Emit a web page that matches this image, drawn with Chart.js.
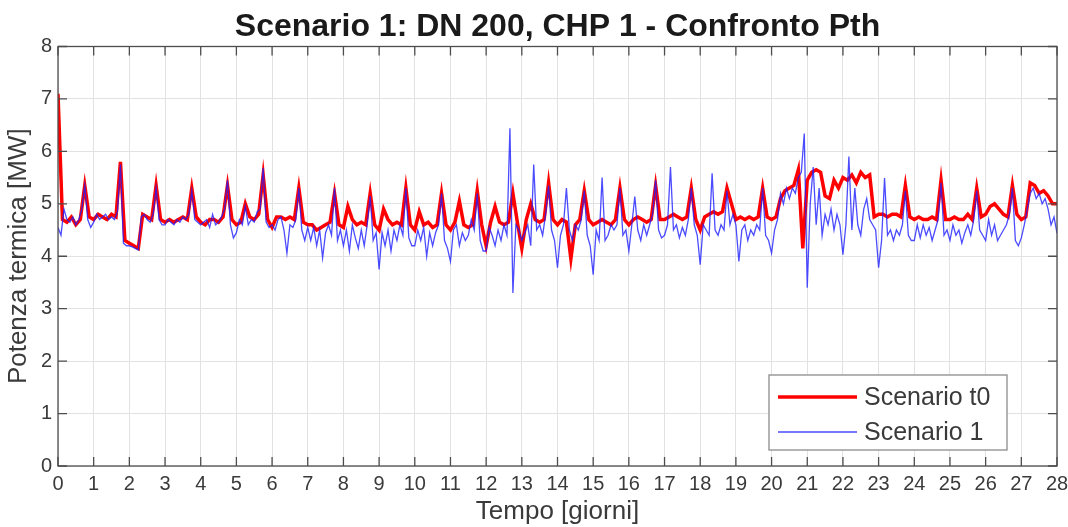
<!DOCTYPE html>
<html>
<head>
<meta charset="utf-8">
<title>Scenario 1: DN 200, CHP 1 - Confronto Pth</title>
<script src="https://cdn.jsdelivr.net/npm/chart.js@4.4.1/dist/chart.umd.min.js"></script>
<style>
    html, body { margin: 0; padding: 0; background: #fff; }
    #wrap { width: 1068px; height: 527px; position: relative; }
</style>
</head>
<body>
<div id="wrap"><canvas id="pthChart"></canvas></div>
<script>
// ==============================================================================
// 1. DATA (days 0..28; t0 sampled every 3 h, scenario 1 every 2 h)
// ==============================================================================
const STEP_T0 = 3 / 24;
const STEP_S1 = 2 / 24;

const xTicks = [0, 1, 2, 3, 4, 5, 6, 7, 8, 9, 10, 11, 12, 13, 14, 15, 16, 17, 18, 19, 20, 21, 22, 23, 24, 25, 26, 27, 28];
const yTicks = [0, 1, 2, 3, 4, 5, 6, 7, 8];

const chartTitle = 'Scenario 1: DN 200, CHP 1 - Confronto Pth';
const seriesLabels = ['Scenario t0', 'Scenario 1'];

// Scenario t0 [MW], 8 samples per day
const pthScenarioT0 = [
    7.1, 4.7, 4.65, 4.75, 4.6, 4.7, 5.35, 4.75,      // day 0
    4.7, 4.8, 4.75, 4.7, 4.8, 4.75, 5.8, 4.3,        // day 1
    4.25, 4.2, 4.15, 4.8, 4.75, 4.7, 5.35, 4.7,      // day 2
    4.65, 4.7, 4.65, 4.7, 4.75, 4.7, 5.3, 4.75,      // day 3
    4.65, 4.6, 4.7, 4.7, 4.65, 4.75, 5.35, 4.7,      // day 4
    4.6, 4.65, 5.0, 4.75, 4.7, 4.8, 5.55, 4.7,       // day 5
    4.55, 4.75, 4.75, 4.7, 4.75, 4.7, 5.3, 4.65,     // day 6
    4.6, 4.6, 4.5, 4.55, 4.6, 4.65, 5.2, 4.6,        // day 7
    4.55, 4.95, 4.7, 4.6, 4.65, 4.6, 5.2, 4.6,       // day 8
    4.5, 4.9, 4.7, 4.6, 4.65, 4.6, 5.3, 4.6,         // day 9
    4.5, 4.85, 4.6, 4.65, 4.55, 4.6, 5.2, 4.6,       // day 10
    4.5, 4.65, 5.05, 4.6, 4.55, 4.6, 5.25, 4.6,      // day 11
    4.2, 4.65, 4.95, 4.65, 4.6, 4.65, 5.2, 4.65,     // day 12
    4.15, 4.7, 5.0, 4.7, 4.65, 4.7, 5.4, 4.7,        // day 13
    4.6, 4.7, 4.65, 3.95, 4.6, 4.7, 5.25, 4.7,       // day 14
    4.6, 4.65, 4.7, 4.65, 4.6, 4.7, 5.3, 4.7,        // day 15
    4.6, 4.7, 4.75, 4.7, 4.65, 4.7, 5.35, 4.7,       // day 16
    4.7, 4.75, 4.8, 4.75, 4.7, 4.75, 5.3, 4.7,       // day 17
    4.5, 4.75, 4.8, 4.85, 4.8, 4.85, 5.3, 5.0,       // day 18
    4.7, 4.75, 4.7, 4.75, 4.7, 4.75, 5.3, 4.75,      // day 19
    4.7, 4.75, 5.1, 5.25, 5.3, 5.35, 5.65, 4.15,     // day 20
    5.45, 5.6, 5.65, 5.6, 5.15, 5.1, 5.45, 5.3,      // day 21
    5.5, 5.45, 5.55, 5.4, 5.6, 5.5, 5.55, 4.75,      // day 22
    4.8, 4.8, 4.75, 4.8, 4.8, 4.75, 5.35, 4.75,      // day 23
    4.7, 4.75, 4.7, 4.7, 4.75, 4.7, 5.45, 4.7,       // day 24
    4.7, 4.75, 4.7, 4.7, 4.8, 4.7, 5.3, 4.75,        // day 25
    4.8, 4.95, 5.0, 4.9, 4.8, 4.75, 5.35, 4.8,       // day 26
    4.7, 4.75, 5.4, 5.35, 5.2, 5.25, 5.15, 5.0,      // day 27
    5.0                                              // day 28
];

// Scenario 1 [MW], 12 samples per day
const pthScenario1 = [
    4.55, 4.4, 4.9, 4.7, 4.65, 4.75, 4.6, 4.7, 4.9, 5.35, 4.7, 4.55,    // day 0
    4.65, 4.8, 4.7, 4.75, 4.8, 4.7, 4.75, 4.7, 4.85, 5.75, 4.25, 4.2,   // day 1
    4.2, 4.18, 4.15, 4.12, 4.75, 4.8, 4.7, 4.65, 4.8, 5.3, 4.7, 4.6,    // day 2
    4.6, 4.7, 4.65, 4.6, 4.7, 4.65, 4.75, 4.7, 4.8, 5.25, 4.7, 4.65,    // day 3
    4.6, 4.65, 4.7, 4.55, 4.8, 4.6, 4.65, 4.75, 4.9, 5.45, 4.6, 4.35,   // day 4
    4.45, 4.7, 4.6, 4.95, 4.6, 4.7, 4.65, 4.85, 4.9, 5.68, 4.65, 4.55,  // day 5
    4.6, 4.5, 4.7, 4.75, 4.5, 4.06, 4.6, 4.55, 4.7, 5.3, 4.5, 4.3,      // day 6
    4.55, 4.3, 4.55, 4.2, 4.5, 3.97, 4.45, 4.6, 4.4, 5.3, 4.3, 4.5,     // day 7
    4.2, 4.5, 4.1, 4.6, 4.35, 4.15, 4.5, 4.2, 4.6, 5.15, 4.3, 4.45,     // day 8
    3.75, 4.45, 4.2, 4.5, 4.1, 4.5, 4.3, 4.6, 4.4, 5.3, 4.35, 4.2,      // day 9
    4.2, 4.5, 4.3, 4.55, 4.0, 4.45, 4.2, 4.45, 4.6, 5.2, 4.3, 4.15,     // day 10
    3.9, 4.5, 4.6, 4.2, 4.45, 4.3, 4.4, 4.7, 4.5, 5.2, 4.3, 4.1,        // day 11
    4.1, 4.55, 4.4, 4.2, 4.5, 4.3, 4.6, 4.4, 6.44, 3.3, 4.6, 4.5,       // day 12
    4.3, 4.45, 4.6, 4.2, 5.75, 4.5, 4.6, 4.4, 4.8, 5.35, 4.5, 4.3,      // day 13
    3.78, 4.4, 4.6, 5.3, 4.5, 4.3, 4.6, 4.5, 4.7, 5.25, 4.4, 4.2,       // day 14
    3.65, 4.5, 4.3, 5.5, 4.3, 4.4, 4.6, 4.5, 4.6, 5.3, 4.4, 4.5,        // day 15
    4.1, 4.6, 5.14, 4.5, 4.3, 4.6, 4.4, 4.6, 4.8, 5.45, 4.5, 4.35,      // day 16
    4.4, 4.6, 5.7, 4.5, 4.6, 4.35, 4.55, 4.4, 4.7, 5.3, 4.6, 4.4,       // day 17
    3.84, 4.6, 4.5, 4.4, 5.58, 4.5, 4.4, 4.6, 4.5, 5.25, 4.6, 4.8,      // day 18
    4.6, 3.9, 4.5, 4.6, 4.3, 4.5, 4.4, 4.6, 4.5, 5.3, 4.4, 4.3,         // day 19
    4.06, 4.5, 4.7, 5.2, 5.0, 5.3, 5.1, 5.3, 5.2, 5.5, 5.6, 6.34,       // day 20
    3.4, 5.0, 5.7, 4.6, 5.3, 4.4, 4.8, 4.6, 4.9, 4.5, 4.8, 4.6,         // day 21
    4.03, 4.6, 5.9, 4.5, 5.3, 4.6, 4.4, 4.9, 5.1, 4.7, 4.6, 4.5,        // day 22
    3.78, 4.3, 5.49, 4.4, 4.5, 4.3, 4.5, 4.4, 4.6, 5.25, 4.4, 4.3,      // day 23
    4.3, 4.6, 4.35, 4.6, 4.4, 4.55, 4.3, 4.5, 4.7, 5.4, 4.4, 4.5,       // day 24
    4.3, 4.6, 4.4, 4.5, 4.25, 4.45, 4.6, 4.4, 4.7, 5.25, 4.5, 4.4,      // day 25
    4.3, 4.7, 4.4, 4.6, 4.3, 4.4, 4.5, 4.6, 4.8, 5.3, 4.3, 4.2,         // day 26
    4.35, 4.6, 4.9, 5.2, 5.3, 5.1, 5.2, 5.0, 5.1, 4.9, 4.6, 4.75,       // day 27
    4.44                                                                // day 28
];

// ==============================================================================
// 2. STYLE
// ==============================================================================
const FONT = "'Liberation Sans', Arial, Helvetica, sans-serif";
const TEXT_COLOR = '#3a3a3a';
const AXIS_COLOR = '#4d4d4d';
const GRID_COLOR = '#e2e2e2';
const RED = 'rgb(255, 0, 0)';
const BLUE = 'rgba(30, 30, 255, 0.8)';

function toPoints(values, step) {
    return values.map((v, i) => ({ x: i * step, y: v }));
}

// ==============================================================================
// 3. PLUGINS: title over the axes, MATLAB-like box with inward ticks, legend
// ==============================================================================
const axesTitle = {
    id: 'axesTitle',
    afterDraw(chart) {
        const { ctx, chartArea: a } = chart;
        ctx.save();
        ctx.fillStyle = '#1a1a1a';
        ctx.font = 'bold 32px ' + FONT;
        ctx.textAlign = 'center';
        ctx.textBaseline = 'middle';
        ctx.fillText(chartTitle, (a.left + a.right) / 2, 27);
        ctx.restore();
    }
};

const axesBox = {
    id: 'axesBox',
    afterDatasetsDraw(chart) {
        const { ctx, chartArea: a, scales } = chart;
        const tickLen = 9;
        ctx.save();
        ctx.strokeStyle = AXIS_COLOR;
        ctx.lineWidth = 1.3;
        ctx.strokeRect(a.left, a.top, a.right - a.left, a.bottom - a.top);
        ctx.beginPath();
        xTicks.forEach(t => {
            const px = scales.x.getPixelForValue(t);
            ctx.moveTo(px, a.bottom); ctx.lineTo(px, a.bottom - tickLen);
            ctx.moveTo(px, a.top);    ctx.lineTo(px, a.top + tickLen);
        });
        yTicks.forEach(t => {
            const py = scales.y.getPixelForValue(t);
            ctx.moveTo(a.left, py);  ctx.lineTo(a.left + tickLen, py);
            ctx.moveTo(a.right, py); ctx.lineTo(a.right - tickLen, py);
        });
        ctx.stroke();
        ctx.restore();
    }
};

const cornerLegend = {
    id: 'cornerLegend',
    afterDraw(chart) {
        const { ctx, chartArea: a } = chart;
        const w = 238, h = 75;
        const x0 = a.right - 50 - w;
        const y0 = a.bottom - 16 - h;
        ctx.save();
        ctx.fillStyle = '#fff';
        ctx.fillRect(x0, y0, w, h);
        ctx.strokeStyle = '#8c8c8c';
        ctx.lineWidth = 1.3;
        ctx.strokeRect(x0, y0, w, h);

        const rows = [
            { color: RED, width: 3.5, y: y0 + 22 },
            { color: BLUE, width: 1.3, y: y0 + 57 }
        ];
        ctx.font = '25px ' + FONT;
        ctx.textBaseline = 'middle';
        rows.forEach((r, i) => {
            ctx.beginPath();
            ctx.strokeStyle = r.color;
            ctx.lineWidth = r.width;
            ctx.moveTo(x0 + 9, r.y);
            ctx.lineTo(x0 + 88, r.y);
            ctx.stroke();
            ctx.fillStyle = TEXT_COLOR;
            ctx.fillText(seriesLabels[i], x0 + 95, r.y + 1);
        });
        ctx.restore();
    }
};

// ==============================================================================
// 4. CHART
// ==============================================================================
new Chart(document.getElementById('pthChart'), {
    type: 'line',
    data: {
        datasets: [
            {
                label: seriesLabels[0],
                data: toPoints(pthScenarioT0, STEP_T0),
                borderColor: RED,
                borderWidth: 3.5,
                pointRadius: 0,
                tension: 0,
                order: 1
            },
            {
                label: seriesLabels[1],
                data: toPoints(pthScenario1, STEP_S1),
                borderColor: BLUE,
                borderWidth: 1.3,
                pointRadius: 0,
                tension: 0,
                order: 0
            }
        ]
    },
    options: {
        responsive: true,
        maintainAspectRatio: false,
        animation: false,
        layout: { padding: { left: 0, right: 11, top: 46.5, bottom: 0 } },
        scales: {
            x: {
                type: 'linear',
                min: 0,
                max: 28,
                afterBuildTicks: s => { s.ticks = xTicks.map(v => ({ value: v })); },
                afterFit: s => { s.height = 61; s.paddingLeft = 0; s.paddingRight = 0; },
                ticks: { color: TEXT_COLOR, font: { family: FONT, size: 20 }, padding: 6, maxRotation: 0, autoSkip: false },
                grid: { color: GRID_COLOR, drawTicks: false },
                border: { display: false },
                title: { display: true, text: 'Tempo [giorni]', color: TEXT_COLOR, font: { family: FONT, size: 26 }, padding: { top: 0, bottom: 0 } }
            },
            y: {
                min: 0,
                max: 8,
                afterBuildTicks: s => { s.ticks = yTicks.map(v => ({ value: v })); },
                afterFit: s => { s.width = 58; s.paddingTop = 0; s.paddingBottom = 0; },
                ticks: { color: TEXT_COLOR, font: { family: FONT, size: 20 }, padding: 6 },
                grid: { color: GRID_COLOR, drawTicks: false },
                border: { display: false },
                title: { display: true, text: 'Potenza termica [MW]', color: TEXT_COLOR, font: { family: FONT, size: 26 }, padding: { top: 3, bottom: 0 } }
            }
        },
        plugins: {
            legend: { display: false },
            tooltip: { enabled: false },
            title: { display: false }
        }
    },
    plugins: [axesTitle, axesBox, cornerLegend]
});
</script>
</body>
</html>
